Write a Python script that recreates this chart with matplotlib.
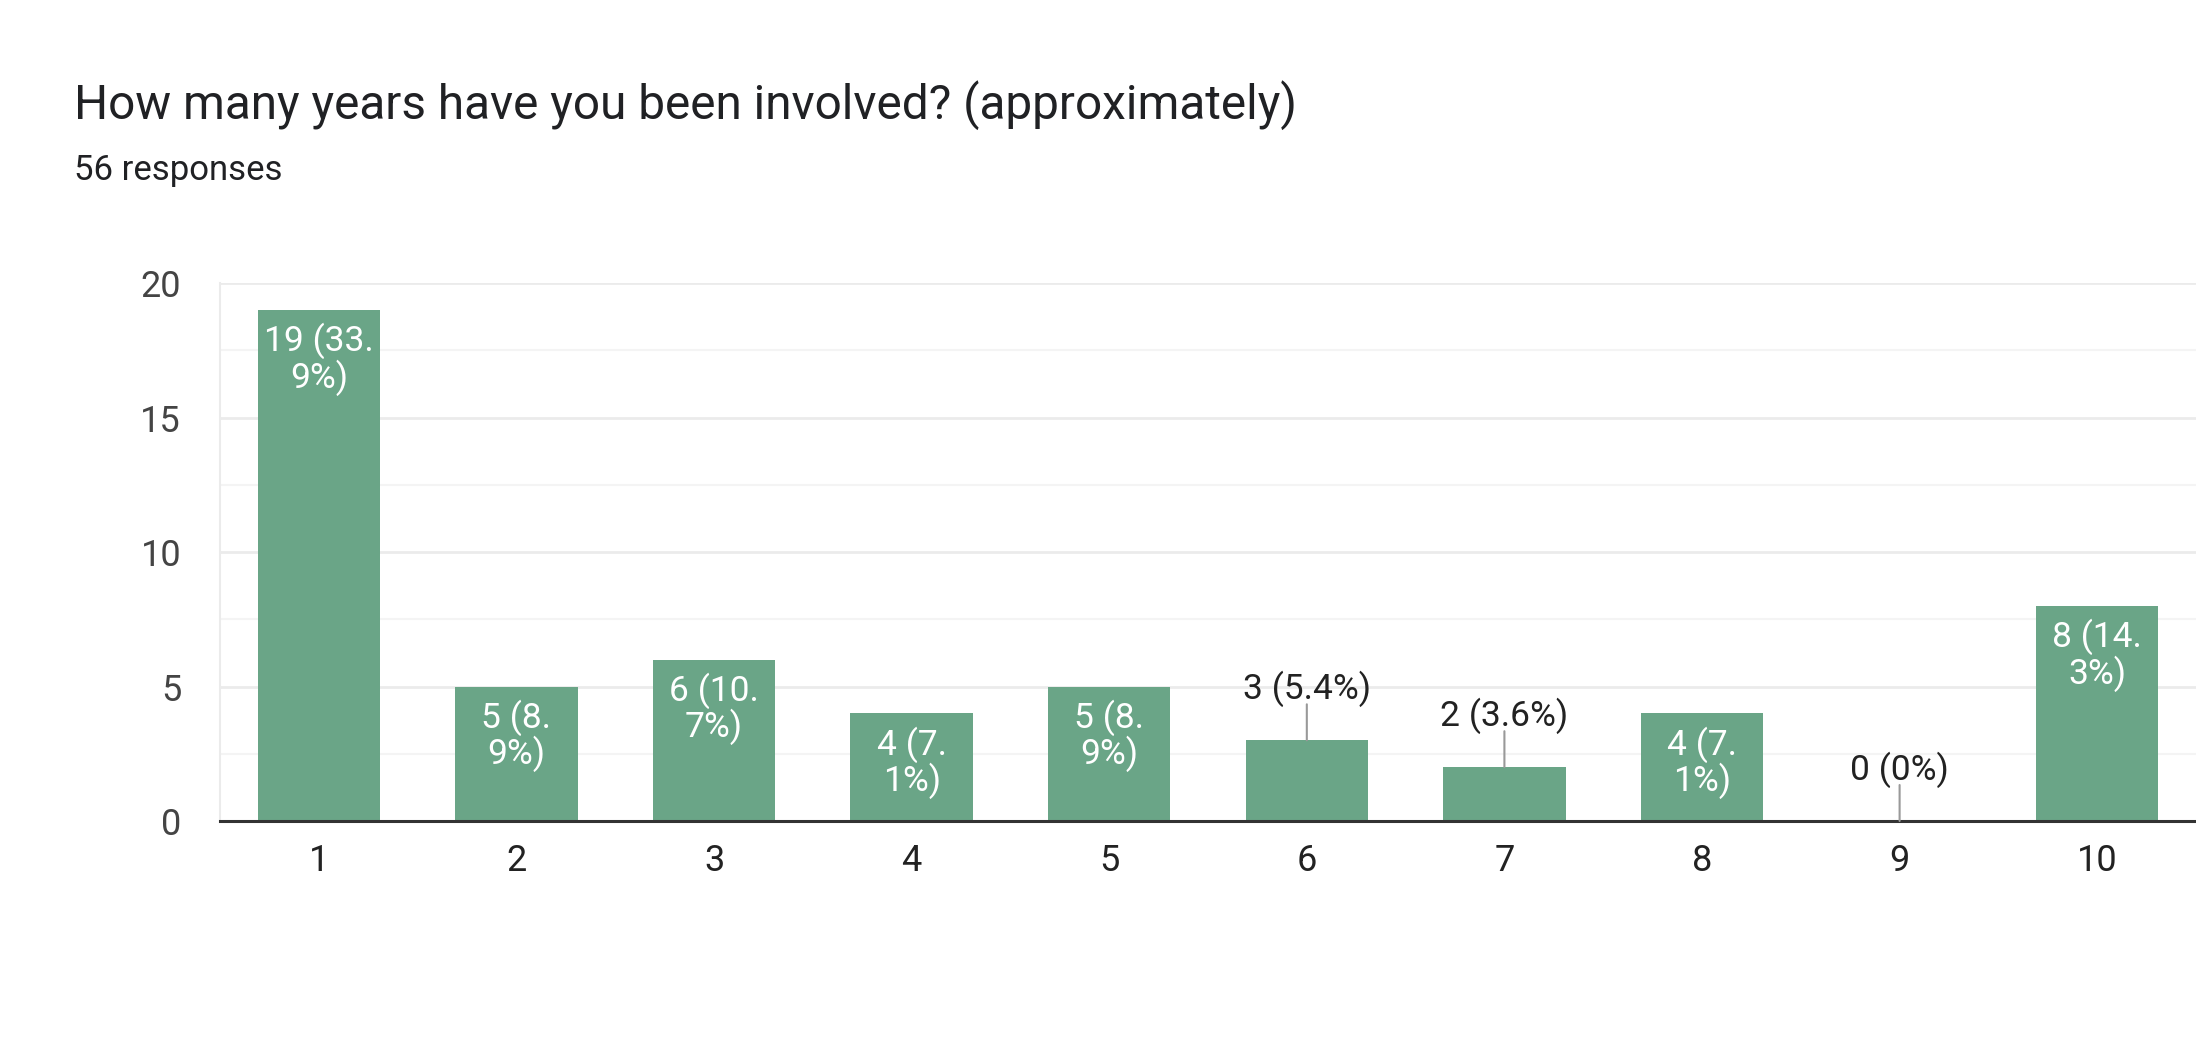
import matplotlib.pyplot as plt
from matplotlib.ticker import MultipleLocator

# data
years = [1, 2, 3, 4, 5, 6, 7, 8, 9, 10]
counts = [19, 5, 6, 4, 5, 3, 2, 4, 0, 8]
total = 56
title = 'How many years have you been involved? (approximately)'
subtitle = '56 responses'

bar_color = '#6aa587'
plt.rcParams['font.family'] = ['Roboto', 'DejaVu Sans']

fig = plt.figure(figsize=(21.96, 10.44), dpi=100)
ax = fig.add_axes([0.1002, 0.2136, 0.8998, 0.5153])

ax.bar(years, counts, width=0.62, color=bar_color, zorder=2)

ax.set_xlim(0.5, 10.5)
ax.set_ylim(0, 20)
ax.set_xticks(years)
ax.set_xticklabels([str(y) for y in years])
ax.yaxis.set_major_locator(MultipleLocator(5))
ax.yaxis.set_minor_locator(MultipleLocator(2.5))
ax.grid(axis='y', which='major', color='#ebebeb', lw=2, zorder=0)
ax.grid(axis='y', which='minor', color='#f4f4f4', lw=1.5, zorder=0)
ax.set_axisbelow(True)

ax.tick_params(axis='x', length=0, pad=15.5, labelsize=26, labelcolor='#222222')
ax.tick_params(axis='y', which='both', length=0, pad=28, labelsize=26, labelcolor='#444444')

for s in ['top', 'right']:
    ax.spines[s].set_visible(False)
ax.spines['left'].set_color('#ebebeb')
ax.spines['left'].set_linewidth(1.5)
ax.spines['bottom'].set_color('#333333')
ax.spines['bottom'].set_linewidth(2.2)
ax.spines['bottom'].set_zorder(3)

for x, v in zip(years, counts):
    pct = round(v / total * 100, 1)
    pct_txt = ('%.1f' % pct).rstrip('0').rstrip('.')
    label = '%d (%s%%)' % (v, pct_txt)
    if v >= 4:
        # long labels wrap inside the bar after the decimal point
        cut = label.index('.') + 1
        label = label[:cut] + '\n' + label[cut:]
        ax.annotate(label, xy=(x, v), xytext=(0, -13), textcoords='offset pixels',
                    ha='center', va='top', color='white', fontsize=25.5,
                    linespacing=1.0, zorder=4)
    else:
        ax.annotate('', xy=(x, v), xytext=(0, 36), textcoords='offset pixels',
                    arrowprops=dict(arrowstyle='-', color='#999999', lw=1.5,
                                    shrinkA=0, shrinkB=0), zorder=4)
        ax.annotate(label, xy=(x, v), xytext=(0, 41), textcoords='offset pixels',
                    ha='center', va='baseline', color='#222222', fontsize=25.5,
                    zorder=4)

fig.text(74 / 2196, 1 - 119 / 1044, title, fontsize=34.4, color='#202124',
         ha='left', va='baseline')
fig.text(74 / 2196, 1 - 180 / 1044, subtitle, fontsize=25, color='#202124',
         ha='left', va='baseline')

fig.savefig('out.png', dpi=100, facecolor='white')
